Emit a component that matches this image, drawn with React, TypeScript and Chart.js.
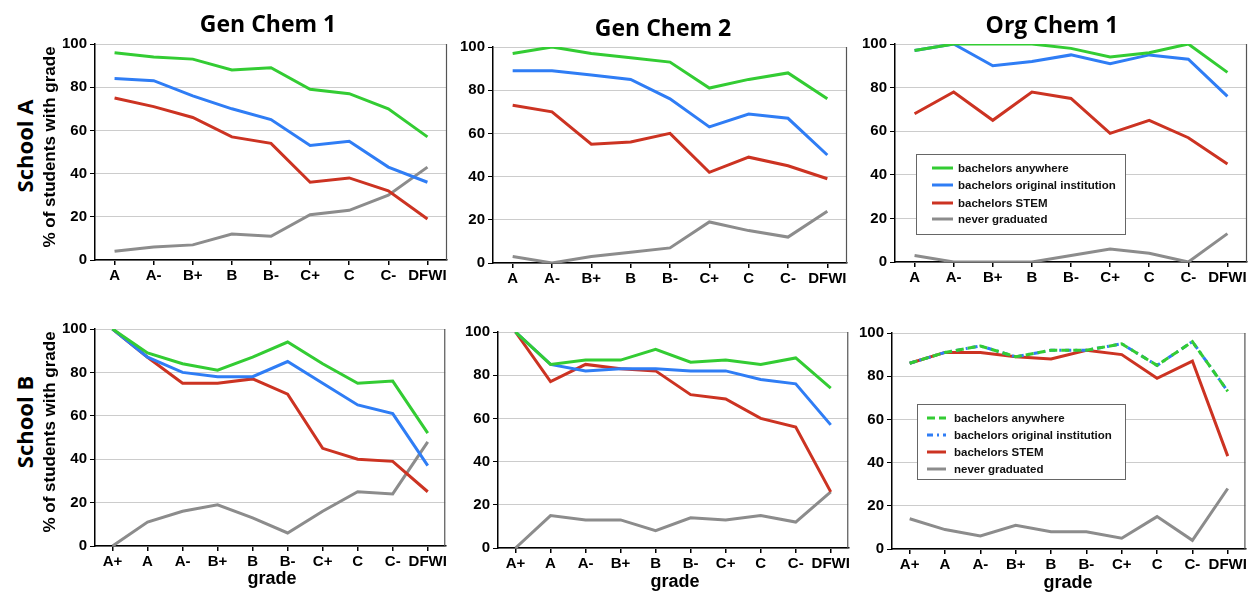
import React, { useEffect, useRef } from "react";
import { Chart, registerables } from "chart.js";

Chart.register(...registerables);

// ---------- data ----------
const gradesA = ["A", "A-", "B+", "B", "B-", "C+", "C", "C-", "DFWI"];
const gradesB = ["A+", "A", "A-", "B+", "B", "B-", "C+", "C", "C-", "DFWI"];
const yTickValues = [0, 20, 40, 60, 80, 100];
const seriesNames = [
  "bachelors anywhere",
  "bachelors original institution",
  "bachelors STEM",
  "never graduated",
];
const columnTitles = ["Gen Chem 1", "Gen Chem 2", "Org Chem 1"];
const rowTitles = ["School A", "School B"];
const yAxisTitle = "% of students with grade";
const xAxisTitle = "grade";

// School A — Gen Chem 1
const gc1A_anywhere = [96, 94, 93, 88, 89, 79, 77, 70, 57];
const gc1A_original = [84, 83, 76, 70, 65, 53, 55, 43, 36];
const gc1A_stem = [75, 71, 66, 57, 54, 36, 38, 32, 19];
const gc1A_never = [4, 6, 7, 12, 11, 21, 23, 30, 43];
// School A — Gen Chem 2
const gc2A_anywhere = [97, 100, 97, 95, 93, 81, 85, 88, 76];
const gc2A_original = [89, 89, 87, 85, 76, 63, 69, 67, 50];
const gc2A_stem = [73, 70, 55, 56, 60, 42, 49, 45, 39];
const gc2A_never = [3, 0, 3, 5, 7, 19, 15, 12, 24];
// School A — Org Chem 1
const oc1A_anywhere = [97, 100, 100, 100, 98, 94, 96, 100, 87];
const oc1A_original = [97, 100, 90, 92, 95, 91, 95, 93, 76];
const oc1A_stem = [68, 78, 65, 78, 75, 59, 65, 57, 45];
const oc1A_never = [3, 0, 0, 0, 3, 6, 4, 0, 13];
// School B — Gen Chem 1
const gc1B_anywhere = [100, 89, 84, 81, 87, 94, 84, 75, 76, 52];
const gc1B_original = [100, 87, 80, 78, 78, 85, 75, 65, 61, 37];
const gc1B_stem = [100, 87, 75, 75, 77, 70, 45, 40, 39, 25];
const gc1B_never = [0, 11, 16, 19, 13, 6, 16, 25, 24, 48];
// School B — Gen Chem 2
const gc2B_anywhere = [100, 85, 87, 87, 92, 86, 87, 85, 88, 74];
const gc2B_original = [100, 85, 82, 83, 83, 82, 82, 78, 76, 57];
const gc2B_stem = [100, 77, 85, 83, 82, 71, 69, 60, 56, 26];
const gc2B_never = [0, 15, 13, 13, 8, 14, 13, 15, 12, 26];
// School B — Org Chem 1
const oc1B_anywhere = [86, 91, 94, 89, 92, 92, 95, 85, 96, 73];
const oc1B_original = [86, 91, 94, 89, 92, 92, 95, 85, 96, 73];
const oc1B_stem = [86, 91, 91, 89, 88, 92, 90, 79, 87, 43];
const oc1B_never = [14, 9, 6, 11, 8, 8, 5, 15, 4, 28];

// ---------- styles ----------
const COLORS = ["#33cc33", "#2f7df5", "#cc3322", "#8c8c8c"];
const TICK_FONT = "'Liberation Sans', Arial, sans-serif";
const TITLE_FONT = "'Open Sans', sans-serif";
const YW = 46; // y-axis width inside canvas
const XH = 30; // x-axis height inside canvas
const PT = 12; // top padding
const PR = 2; // right padding

type Area = { left: number; top: number; right: number; bottom: number };
type LegendBox = { dx: number; dy: number; w: number; h: number; lx0: number; lx1: number; tx: number; rows: number[] };

const framePlugin = {
  id: "frameRight",
  afterDraw(chart: any) {
    const { ctx, chartArea } = chart;
    ctx.save();
    ctx.strokeStyle = "#555";
    ctx.lineWidth = 1.2;
    ctx.beginPath();
    ctx.moveTo(chartArea.right - 0.5, chartArea.top);
    ctx.lineTo(chartArea.right - 0.5, chartArea.bottom);
    ctx.stroke();
    ctx.restore();
  },
};

const boxLegendPlugin = {
  id: "boxLegend",
  afterDraw(chart: any) {
    const box: LegendBox | undefined = chart.options.plugins.boxLegend?.box;
    if (!box) return;
    const { ctx, chartArea } = chart;
    const x = chartArea.left + box.dx;
    const y = chartArea.top + box.dy;
    ctx.save();
    ctx.fillStyle = "#fff";
    ctx.fillRect(x, y, box.w, box.h);
    ctx.strokeStyle = "#666";
    ctx.lineWidth = 1;
    ctx.strokeRect(x + 0.5, y + 0.5, box.w, box.h);
    chart.data.datasets.forEach((ds: any, i: number) => {
      const ry = y + box.rows[i];
      ctx.strokeStyle = ds.borderColor;
      ctx.lineWidth = 3;
      ctx.setLineDash(ds.borderDash || []);
      ctx.beginPath();
      ctx.moveTo(x + box.lx0, ry);
      ctx.lineTo(x + box.lx1, ry);
      ctx.stroke();
      ctx.setLineDash([]);
      ctx.fillStyle = "#111";
      ctx.font = `bold 11.5px ${TICK_FONT}`;
      ctx.textBaseline = "middle";
      ctx.textAlign = "left";
      ctx.fillText(ds.label, x + box.tx, ry + 0.5);
    });
    ctx.restore();
  },
};

type PanelProps = {
  labels: string[];
  series: number[][];
  area: Area;
  legend?: LegendBox;
  dashed?: boolean;
};

function Panel({ labels, series, area, legend, dashed }: PanelProps) {
  const ref = useRef<HTMLCanvasElement | null>(null);
  const width = area.right - area.left + YW + PR;
  const height = area.bottom - area.top + PT + XH;

  useEffect(() => {
    if (!ref.current) return;
    const tickFont = { family: TICK_FONT, size: 15, weight: "bold" as const };
    const chart = new Chart(ref.current, {
      type: "line",
      data: {
        labels,
        datasets: series.map((d, i) => ({
          label: seriesNames[i],
          data: d,
          borderColor: COLORS[i],
          backgroundColor: COLORS[i],
          borderWidth: 3,
          pointRadius: 0,
          tension: 0,
          fill: false,
          borderDash: dashed && i === 0 ? [8, 4] : dashed && i === 1 ? [6, 4, 2, 4] : [],
        })),
      },
      options: {
        responsive: false,
        maintainAspectRatio: false,
        animation: false,
        layout: { autoPadding: false, padding: { top: PT, right: PR, left: 0, bottom: 0 } },
        plugins: {
          legend: { display: false },
          tooltip: { enabled: false },
          title: { display: false },
          // @ts-ignore
          boxLegend: { box: legend },
        },
        scales: {
          x: {
            type: "category",
            offset: true,
            grid: {
              display: true,
              drawOnChartArea: false,
              drawTicks: true,
              tickLength: 5,
              tickColor: "#000",
              lineWidth: 1.5,
              offset: false,
            },
            border: { display: true, color: "#000", width: 1.5 },
            ticks: { color: "#000", font: tickFont, padding: 2, maxRotation: 0, autoSkip: false },
            afterFit: (s: any) => {
              s.height = XH;
            },
          },
          y: {
            min: 0,
            max: 100,
            afterBuildTicks: (s: any) => {
              s.ticks = yTickValues.map((v) => ({ value: v }));
            },
            grid: { color: "#cccccc", lineWidth: 1, tickColor: "#000", tickLength: 5, drawTicks: true },
            border: { display: true, color: "#000", width: 1.5 },
            ticks: { color: "#000", font: tickFont, padding: 3 },
            afterFit: (s: any) => {
              s.width = YW;
            },
          },
        },
      },
      plugins: [framePlugin, boxLegendPlugin],
    });
    return () => chart.destroy();
  }, []);

  return (
    <canvas
      ref={ref}
      width={width}
      height={height}
      style={{
        position: "absolute",
        left: area.left - YW,
        top: area.top - PT,
        width,
        height,
      }}
    />
  );
}

function Label({
  text,
  cx,
  cy,
  size,
  family,
  weight,
  rotate,
}: {
  text: string;
  cx: number;
  cy: number;
  size: number;
  family: string;
  weight?: number;
  rotate?: boolean;
}) {
  return (
    <div
      style={{
        position: "absolute",
        left: cx,
        top: cy,
        transform: `translate(-50%, -50%)${rotate ? " rotate(-90deg)" : ""}`,
        whiteSpace: "nowrap",
        fontFamily: family,
        fontWeight: weight ?? 700,
        fontSize: size,
        lineHeight: 1,
        color: "#000",
      }}
    >
      {text}
    </div>
  );
}

const legendTop: LegendBox = { dx: 21, dy: 110, w: 209, h: 80, lx0: 16, lx1: 37, tx: 42, rows: [14, 31, 49, 65] };
const legendBottom: LegendBox = { dx: 25, dy: 71, w: 208, h: 75, lx0: 10, lx1: 29, tx: 37, rows: [14, 31, 48, 65] };

export default function App() {
  return (
    <div
      style={{
        position: "absolute",
        left: 0,
        top: 0,
        width: 1249,
        height: 592,
        overflow: "hidden",
        background: "#fff",
      }}
    >
      <Panel
        labels={gradesA}
        series={[gc1A_anywhere, gc1A_original, gc1A_stem, gc1A_never]}
        area={{ left: 95, top: 44, right: 447, bottom: 260 }}
      />
      <Panel
        labels={gradesA}
        series={[gc2A_anywhere, gc2A_original, gc2A_stem, gc2A_never]}
        area={{ left: 493, top: 47, right: 847, bottom: 263 }}
      />
      <Panel
        labels={gradesA}
        series={[oc1A_anywhere, oc1A_original, oc1A_stem, oc1A_never]}
        area={{ left: 895, top: 44, right: 1247, bottom: 262 }}
        legend={legendTop}
      />
      <Panel
        labels={gradesB}
        series={[gc1B_anywhere, gc1B_original, gc1B_stem, gc1B_never]}
        area={{ left: 95, top: 329, right: 447, bottom: 546 }}
      />
      <Panel
        labels={gradesB}
        series={[gc2B_anywhere, gc2B_original, gc2B_stem, gc2B_never]}
        area={{ left: 498, top: 332, right: 850, bottom: 548 }}
      />
      <Panel
        labels={gradesB}
        series={[oc1B_anywhere, oc1B_original, oc1B_stem, oc1B_never]}
        area={{ left: 892, top: 333, right: 1247, bottom: 549 }}
        legend={legendBottom}
        dashed
      />

      <Label text={columnTitles[0]} cx={268} cy={23} size={23} family={TITLE_FONT} />
      <Label text={columnTitles[1]} cx={663} cy={27} size={23} family={TITLE_FONT} />
      <Label text={columnTitles[2]} cx={1052} cy={24} size={23} family={TITLE_FONT} />

      <Label text={rowTitles[0]} cx={24} cy={146} size={22} family={TITLE_FONT} rotate />
      <Label text={rowTitles[1]} cx={24} cy={422} size={22} family={TITLE_FONT} rotate />

      <Label text={yAxisTitle} cx={49} cy={147} size={17} family={TICK_FONT} rotate />
      <Label text={yAxisTitle} cx={49} cy={432} size={17} family={TICK_FONT} rotate />

      <Label text={xAxisTitle} cx={272} cy={578} size={18} family={TICK_FONT} />
      <Label text={xAxisTitle} cx={675} cy={581} size={18} family={TICK_FONT} />
      <Label text={xAxisTitle} cx={1068} cy={582} size={18} family={TICK_FONT} />
    </div>
  );
}
